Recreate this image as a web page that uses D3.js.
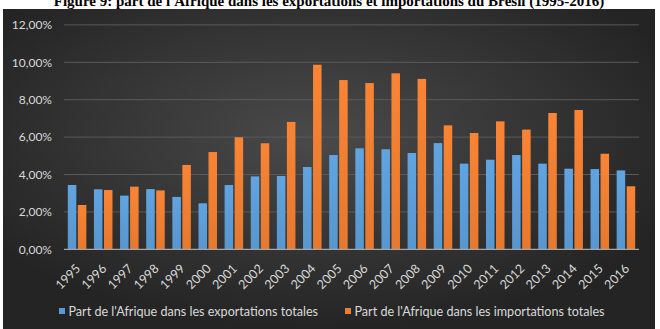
<!DOCTYPE html>
<html><head><meta charset="utf-8">
<script src="https://cdn.jsdelivr.net/npm/d3@7"></script>
<style>body{margin:0;background:#fff}svg{display:block}</style>
</head><body>
<script>
const years = ["1995","1996","1997","1998","1999","2000","2001","2002","2003","2004","2005","2006","2007","2008","2009","2010","2011","2012","2013","2014","2015","2016"];
const exportsShare = [3.44,3.21,2.87,3.22,2.80,2.46,3.44,3.90,3.92,4.40,5.04,5.40,5.35,5.15,5.68,4.58,4.79,5.04,4.58,4.31,4.29,4.22];
const importsShare = [2.37,3.17,3.35,3.15,4.51,5.20,5.99,5.67,6.81,9.87,9.05,8.89,9.41,9.11,6.63,6.22,6.84,6.40,7.29,7.45,5.11,3.37];
const yTicks = [0,2,4,6,8,10,12];
const seriesNames = ["Part de l'Afrique dans les exportations totales","Part de l'Afrique dans les importations totales"];
const seriesColors = ["#5b9bd5","#ed7d31"];
const titleText = "Figure 9: part de l'Afrique dans les exportations et importations du Brésil (1995-2016)";

const W=660,H=329;
const svg=d3.select("body").append("svg").attr("width",W).attr("height",H);
const defs=svg.append("defs");
const bg=defs.append("radialGradient").attr("id","bg").attr("cx","48%").attr("cy","40%").attr("r","60%");
bg.append("stop").attr("offset","0%").attr("stop-color","#4a4a4a");
bg.append("stop").attr("offset","100%").attr("stop-color","#242424");
seriesColors.forEach((c,i)=>{
  const g=defs.append("linearGradient").attr("id","bar"+i).attr("x1",0).attr("y1",0).attr("x2",0).attr("y2",1);
  g.append("stop").attr("offset","0%").attr("stop-color",d3.color(c).brighter(0.15));
  g.append("stop").attr("offset","100%").attr("stop-color",d3.color(c).darker(0.1));
});

// title
svg.append("text").attr("x",329).attr("y",6).attr("text-anchor","middle")
  .attr("font-family","Liberation Serif").attr("font-weight","bold").attr("font-size",15)
  .attr("fill","#000").text(titleText);

// chart area background
svg.append("rect").attr("x",3).attr("y",9).attr("width",652).attr("height",H-9).attr("fill","url(#bg)");

const x0=d3.scaleBand().domain(years).range([64,639]).padding(0);
const x1=d3.scaleBand().domain([0,1]).range([0,x0.bandwidth()]).paddingInner(0.15).paddingOuter(0.38);
const y=d3.scaleLinear().domain([0,12]).range([249.3,24.9]);

// gridlines
svg.append("g").selectAll("line").data(yTicks.filter(d=>d>0)).join("line")
  .attr("x1",64).attr("x2",639).attr("y1",d=>y(d)).attr("y2",d=>y(d))
  .attr("stroke","#5a5a5a").attr("stroke-width",1);

// y axis labels
const yAxis=d3.axisLeft(y).tickValues(yTicks).tickSize(0).tickPadding(0)
  .tickFormat(d=>d3.format(".2f")(d).replace(".",",")+"%");
const ya=svg.append("g").attr("transform","translate(52,0)").call(yAxis);
ya.select(".domain").remove();
ya.selectAll("text").attr("font-family","Lato").attr("font-size",12).attr("fill","#d9d9d9");

// bars
const data=years.map((yr,i)=>({yr,vals:[exportsShare[i],importsShare[i]]}));
const grp=svg.append("g").selectAll("g").data(data).join("g").attr("transform",d=>`translate(${x0(d.yr)},0)`);
grp.selectAll("rect").data(d=>d.vals.map((v,k)=>({k,v}))).join("rect")
  .attr("x",d=>x1(d.k)).attr("width",x1.bandwidth())
  .attr("y",d=>y(d.v)).attr("height",d=>y(0)-y(d.v))
  .attr("fill",d=>`url(#bar${d.k})`);

// baseline
svg.append("line").attr("x1",64).attr("x2",639).attr("y1",y(0)).attr("y2",y(0)).attr("stroke","#a6a6a6").attr("stroke-width",1.2);

// x labels
const xAxis=d3.axisBottom(x0).tickSize(0).tickPadding(0);
const xa=svg.append("g").attr("transform",`translate(0,${y(0)})`).call(xAxis);
xa.select(".domain").remove();
xa.selectAll("text").attr("font-family","Lato").attr("font-size",12.5).attr("fill","#d9d9d9")
  .attr("text-anchor","end").attr("y",0).attr("dy","0.35em")
  .attr("transform","translate(1,17) rotate(-45)");

// legend
const legX=[59,345];
const leg=svg.append("g").selectAll("g").data(seriesNames).join("g").attr("transform",(d,i)=>`translate(${legX[i]},308)`);
leg.append("rect").attr("width",6).attr("height",6).attr("fill",(d,i)=>seriesColors[i]);
leg.append("text").attr("x",9.5).attr("y",8).attr("font-family","Lato").attr("font-size",12.6).attr("fill","#d9d9d9").text(d=>d);
</script>
</body></html>
